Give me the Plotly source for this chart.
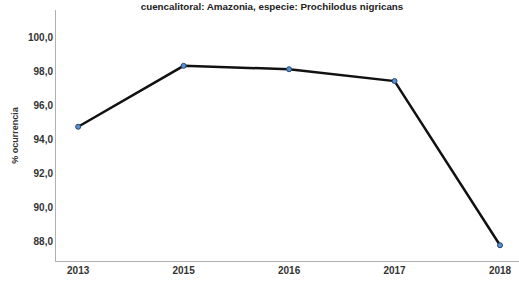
import plotly.graph_objects as go

years = ["2013", "2015", "2016", "2017", "2018"]
ocurrencia = [94.75, 98.35, 98.15, 97.45, 87.75]
y_ticks = [88, 90, 92, 94, 96, 98, 100]
y_tick_text = ["88,0", "90,0", "92,0", "94,0", "96,0", "98,0", "100,0"]

fig = go.Figure()
fig.add_trace(go.Scatter(
    x=years, y=ocurrencia, mode="lines+markers",
    line=dict(color="#111111", width=2.5),
    marker=dict(color="#5b8fd0", size=5, line=dict(color="#24456e", width=1)),
))

fig.update_layout(
    width=519, height=281,
    margin=dict(l=56, r=0, t=10, b=20),
    paper_bgcolor="white", plot_bgcolor="white",
    showlegend=False,
    font=dict(family="Liberation Sans, Arial, sans-serif", size=10, color="#222222"),
    title=dict(text="<b>cuencalitoral: Amazonia, especie: Prochilodus nigricans</b>",
               x=272/519, xanchor="center", y=1 - 6.5/281, yanchor="middle",
               font=dict(size=9.8, color="#222222")),
    xaxis=dict(type="category", range=[-0.21, 4.18], showline=True, linecolor="#b0b0b0",
               linewidth=1, ticks="", showgrid=False, zeroline=False,
               tickfont=dict(size=10, color="#333333", weight="bold")),
    yaxis=dict(range=[86.82, 101.65], tickvals=y_ticks, ticktext=y_tick_text,
               showline=True, linecolor="#b0b0b0", linewidth=1, ticks="",
               showgrid=False, zeroline=False,
               title=dict(text="% ocurrencia", font=dict(size=9, color="#333333", weight="bold"), standoff=7),
               tickfont=dict(size=10, color="#333333", weight="bold")),
)

fig.write_html("out.html", config={"displayModeBar": False},
               post_script="document.body.style.margin='0';")
